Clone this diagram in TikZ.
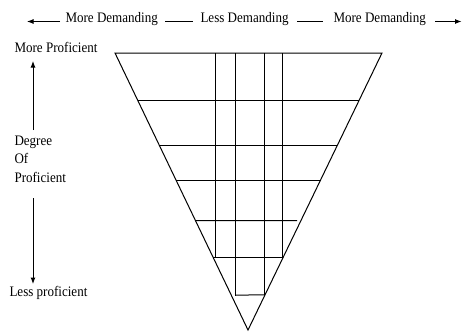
\documentclass[tikz,border=0pt]{standalone}
\usepackage{fontspec}
\setmainfont{Liberation Serif}[FakeStretch=0.9]
\usetikzlibrary{arrows.meta,calc}
\begin{document}
\begin{tikzpicture}[x=1pt,y=-1pt,line width=1pt,
  lbl/.style={inner sep=0pt,font=\fontsize{14.5}{18.5}\selectfont},
  arr/.style={-{Latex[length=6.5pt,width=5pt]},line width=1pt}]
\useasboundingbox (0,0) rectangle (462,332);
% top row
\node[lbl,anchor=west] (md1) at (65,19) {More Demanding};
\node[lbl,anchor=west] (ld) at (200,19) {Less Demanding};
\node[lbl,anchor=west] (md2) at (333,19) {More Demanding};
\coordinate (la0) at (60,21.5); \coordinate (la1) at (27,21.5);
\coordinate (ra0) at (435,21.5); \coordinate (ra1) at (461.5,21.5);
\coordinate (d1a) at (165,21.5); \coordinate (d1b) at (193,21.5);
\coordinate (d2a) at (297,21.5); \coordinate (d2b) at (323,21.5);
\draw[arr] (la0) -- (la1);
\draw[arr] (ra0) -- (ra1);
\draw (d1a) -- (d1b);
\draw (d2a) -- (d2b);
% left column
\node[lbl,anchor=west] (mp) at (14,47) {More Proficient};
\node[lbl,anchor=west,align=left] (dop) at (14,159) {Degree\\Of\\Proficient};
\node[lbl,anchor=west] (lp) at (9,293) {Less proficient};
\coordinate (ua0) at (33,130); \coordinate (ua1) at (33,61);
\coordinate (da0) at (33,198); \coordinate (da1) at (33,284);
\draw[arr] (ua0) -- (ua1);
\draw[arr] (da0) -- (da1);
% triangle
\coordinate (A) at (115,53); \coordinate (B) at (382,53); \coordinate (C) at (248,330);
\draw[line join=miter] (A) -- (B) -- (C) -- cycle;
% horizontal rungs
\draw ($(A)!0.1697!(C)$) -- ($(B)!0.1697!(C)$);
\draw ($(A)!0.3357!(C)$) -- ($(B)!0.3357!(C)$);
\draw ($(A)!0.4585!(C)$) -- ($(B)!0.4585!(C)$);
\draw ($(A)!0.6047!(C)$) -- (297,220.5);
\draw ($(A)!0.7383!(C)$) -- ($(B)!0.7383!(C)$);
\draw (235,295) -- ($(B)!0.8736!(C)$);
% verticals
\draw (215,53) -- (215,257.5);
\draw (235,53) -- (235,296);
\draw (264,53) -- (264,296);
\draw (282,53) -- (282,257.5);
\end{tikzpicture}
\end{document}
